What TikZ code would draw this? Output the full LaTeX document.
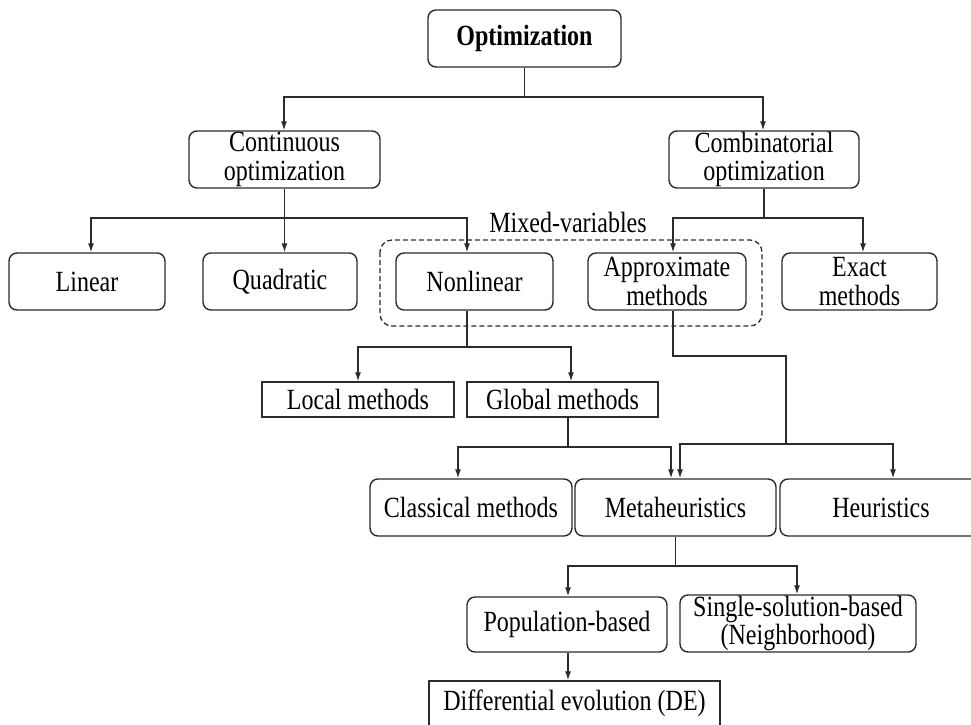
\documentclass[tikz,border=0pt]{standalone}
\usepackage{fontspec}
\setmainfont{Liberation Serif}[FakeStretch=0.82]
\usetikzlibrary{arrows.meta}
\definecolor{ink}{HTML}{2B2B2B}
\begin{document}
\begin{tikzpicture}[x=1pt,y=-1pt,
  every node/.style={font=\fontsize{29.3}{28.5}\selectfont, text=black},
  rbox/.style={draw=ink, line width=1.4pt, rounded corners=8pt, align=center,
               inner sep=0pt, minimum height=57pt},
  sbox/.style={draw=ink, line width=1.4pt, align=center, inner sep=0pt,
               minimum height=35pt},
  link/.style={draw=ink, line width=1.3pt},
  arr/.style={link, -{Latex[length=9pt,width=6pt]}}
]
\useasboundingbox (0,0) rectangle (971,724);
\clip (0,0) rectangle (971,724);

% --- level 0 and 1
\node[rbox, minimum width=193pt] (opt) at (524.5,38.5) {\textbf{Optimization}};
\node[rbox, minimum width=191pt] (cont) at (284.5,159.5) {Continuous\\optimization};
\node[rbox, minimum width=190pt] (comb) at (764,159.5) {Combinatorial\\optimization};

% --- level 2
\node[rbox, minimum width=156pt] (linear) at (87,281.5) {Linear};
\node[rbox, minimum width=154pt] (quad) at (280,281.5) {Quadratic};
\node[rbox, minimum width=157pt] (nonlin) at (474.5,281.5) {Nonlinear};
\node[rbox, minimum width=158pt] (approx) at (667,281.5) {Approximate\\methods};
\node[rbox, minimum width=155pt] (exact) at (859.5,281.5) {Exact\\methods};

% mixed-variables group
\draw[ink, line width=1.3pt, dash pattern=on 5pt off 3pt, rounded corners=12pt]
  (380,240) rectangle (762,326);
\node[anchor=base] (mixed) at (568,232) {Mixed-variables};

% --- level 3
\node[sbox, minimum width=192pt] (local) at (358,399.5) {Local methods};
\node[sbox, minimum width=191pt] (global) at (562.5,399.5) {Global methods};

% --- level 4
\node[rbox, minimum width=202pt] (classical) at (471,507.5) {Classical methods};
\node[rbox, minimum width=201pt] (meta) at (675.5,507.5) {Metaheuristics};
\node[rbox, minimum width=202pt] (heur) at (881,507.5) {Heuristics};

% --- level 5
\node[rbox, minimum width=200pt, minimum height=55pt] (pop) at (567,624.5) {Population-based};
\node[rbox, minimum width=236pt] (single) at (798,623.5) {Single-solution-based\\(Neighborhood)};

% --- level 6
\node[sbox, minimum width=291pt, minimum height=45pt] (de) at (574.5,703.5) {Differential evolution (DE)};

% --- connectors
\coordinate (j1) at (opt.south |- 0,97);
\draw[link] (opt.south) -- (j1);
\draw[arr] (j1) -| ([xshift=-0.5pt]cont.north);
\draw[arr] (j1) -| ([xshift=-1pt]comb.north);

\coordinate (j2) at (cont.south |- 0,218);
\draw[arr] (cont.south) -- (cont.south |- quad.north);
\draw[arr] (j2) -| ([xshift=4pt]linear.north);
\draw[arr] (j2) -| ([xshift=-7.5pt]nonlin.north);

\coordinate (j3) at (comb.south |- 0,218);
\draw[link] (comb.south) -- (j3);
\draw[arr] (j3) -| ([xshift=6pt]approx.north);
\draw[arr] (j3) -| ([xshift=3.5pt]exact.north);

\coordinate (j4) at ([xshift=-7.5pt]nonlin.south |- 0,347);
\draw[link] ([xshift=-7.5pt]nonlin.south) -- (j4);
\draw[arr] (j4) -| (local.north);
\draw[arr] (j4) -| ([xshift=8.5pt]global.north);

\coordinate (j5) at ([xshift=5.5pt]global.south |- 0,447);
\draw[link] ([xshift=5.5pt]global.south) -- (j5);
\draw[arr] (j5) -| ([xshift=-13pt]classical.north);
\draw[arr] (j5) -| ([xshift=-4.5pt]meta.north);

\coordinate (j6) at ([xshift=6pt]approx.south |- 0,356);
\coordinate (j7) at (786,444);
\draw[link] ([xshift=6pt]approx.south) -- (j6) -| (j7);
\draw[arr] (j7) -| ([xshift=4.5pt]meta.north);
\draw[arr] (j7) -| ([xshift=12pt]heur.north);

\coordinate (j8) at (meta.south |- 0,566);
\draw[link] (meta.south) -- (j8);
\draw[arr] (j8) -| ([xshift=1pt]pop.north);
\draw[arr] (j8) -| ([xshift=-1pt]single.north);

\draw[arr] ([xshift=1pt]pop.south) -- ([xshift=1pt]pop.south |- de.north);
\end{tikzpicture}
\end{document}
